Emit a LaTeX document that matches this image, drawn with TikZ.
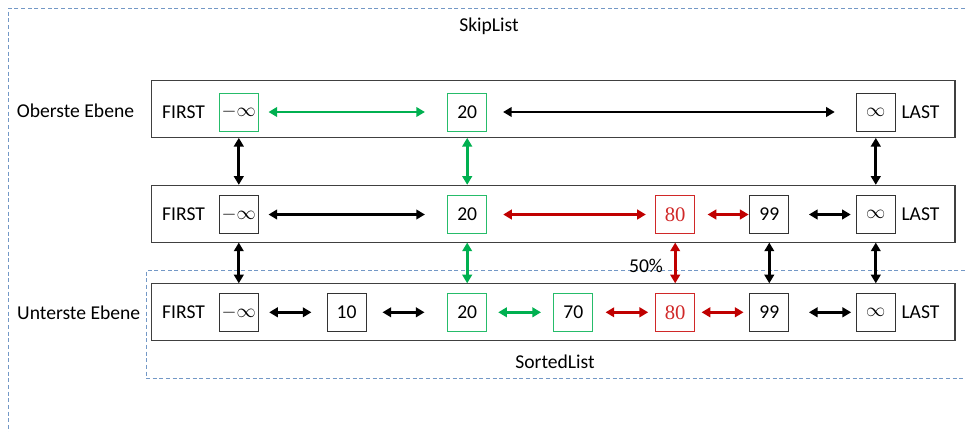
\documentclass[tikz,border=0pt]{standalone}
\usepackage{fontspec}
\setmainfont{Carlito}
\newfontfamily\numfont{Liberation Serif}
\usetikzlibrary{arrows.meta}
\definecolor{sgreen}{HTML}{00B050}
\definecolor{sred}{HTML}{C00000}
\definecolor{lred}{HTML}{D02828}
\definecolor{dblue}{HTML}{5A86BC}

\begin{document}
\begin{tikzpicture}[x=0.75pt,y=-0.75pt,
  every node/.style={font=\fontsize{14.7}{17}\selectfont},
  level/.style={draw=black!75,line width=0.8pt,minimum width=602.5pt,minimum height=42.5pt},
  box/.style={draw=black!80,line width=0.75pt,minimum width=29.25pt,minimum height=28.5pt,inner sep=0pt},
  gbox/.style={box,draw=sgreen!85},
  rbox/.style={box,draw=lred,text=lred,font=\fontsize{15.5}{17}\numfont},
  lnk/.style={line width=2.1pt,{Triangle[length=6.5pt,width=7.2pt]}-{Triangle[length=6.5pt,width=7.2pt]}},
  region/.style={dblue!85,line width=0.75pt,dash pattern=on 3pt off 2pt}]
\useasboundingbox (0,0) rectangle (965,432);
% dashed frames
\draw[region] (965,8.3) -- (8.3,8.3) -- (8.3,432);
\draw[region] (965,270.5) -- (146,270.5) -- (146,378.3) -- (965,378.3);
\node (skiplist) at (489,26) {SkipList};
\node (sortedlist) at (555,361.7) {SortedList};
% levels
\node[level] (top) at (553.35,109) {};
\node[level] (mid) at (553.35,213.7) {};
\node[level] (bot) at (553.35,312.2) {};
\node (obenlbl) at (75.5,111) {Oberste Ebene};
\node (untenlbl) at (78.7,312.7) {Unterste Ebene};
\node (tfirst) at (183.6,112) {FIRST};
\node (mfirst) at (183.6,214.5) {FIRST};
\node (bfirst) at (183.6,312.3) {FIRST};
\node (tlast) at (920.5,112) {LAST};
\node (mlast) at (920.5,214.5) {LAST};
\node (blast) at (920.5,312.3) {LAST};
% oberste ebene
\node[gbox] (ta) at (238.8,112) {$-\infty$};
\node[gbox] (t20) at (467.2,112) {20};
\node[box] (tz) at (875.8,112) {$\infty$};
% mittlere ebene
\node[box] (ma) at (238.8,214.5) {$-\infty$};
\node[gbox] (m20) at (467.2,214.5) {20};
\node[rbox] (m80) at (675.2,214.5) {80};
\node[box] (m99) at (769.3,214.5) {99};
\node[box] (mz) at (875.8,214.5) {$\infty$};
% unterste ebene
\node[box] (ba) at (238.8,312.3) {$-\infty$};
\node[box] (b10) at (346.5,312.3) {10};
\node[gbox] (b20) at (467.2,312.3) {20};
\node[gbox] (b70) at (573.3,312.3) {70};
\node[rbox] (b80) at (675.2,312.3) {80};
\node[box] (b99) at (769.3,312.3) {99};
\node[box] (bz) at (875.8,312.3) {$\infty$};
\node (prob) at (646,266) {50\%};
% horizontal links
\draw[lnk,sgreen,shorten <=7.3pt,shorten >=16.7pt] (ta) -- (t20);
\draw[lnk,shorten <=11.9pt,shorten >=15.8pt] (t20) -- (tz);
\draw[lnk,shorten <=7.3pt,shorten >=16.7pt] (ma) -- (m20);
\draw[lnk,sred,shorten <=12pt,shorten >=7pt] (m20) -- (m80);
\draw[lnk,sred,shorten <=9.3pt,shorten >=0.5pt] (m80) -- (m99);
\draw[lnk,shorten <=14.7pt,shorten >=3.8pt] (m99) -- (mz);
\draw[lnk,shorten <=7.8pt,shorten >=11.3pt] (ba) -- (b10);
\draw[lnk,shorten <=12pt,shorten >=17pt] (b10) -- (b20);
\draw[lnk,sgreen,shorten <=8.3pt,shorten >=9.2pt] (b20) -- (b70);
\draw[lnk,sred,shorten <=9.2pt,shorten >=5.3pt] (b70) -- (b80);
\draw[lnk,sred,shorten <=4.8pt,shorten >=4.3pt] (b80) -- (b99);
\draw[lnk,shorten <=14.7pt,shorten >=3.5pt] (b99) -- (bz);
% vertical links
\draw[lnk] (ta |- top.south) -- (ma |- mid.north);
\draw[lnk,sgreen] (t20 |- top.south) -- (m20 |- mid.north);
\draw[lnk] (tz |- top.south) -- (mz |- mid.north);
\draw[lnk] (ma |- mid.south) -- (ba |- bot.north);
\draw[lnk,sgreen] (m20 |- mid.south) -- (b20 |- bot.north);
\draw[lnk,sred] (m80 |- mid.south) -- (b80 |- bot.north);
\draw[lnk] (m99 |- mid.south) -- (b99 |- bot.north);
\draw[lnk] (mz |- mid.south) -- (bz |- bot.north);
\end{tikzpicture}
\end{document}
